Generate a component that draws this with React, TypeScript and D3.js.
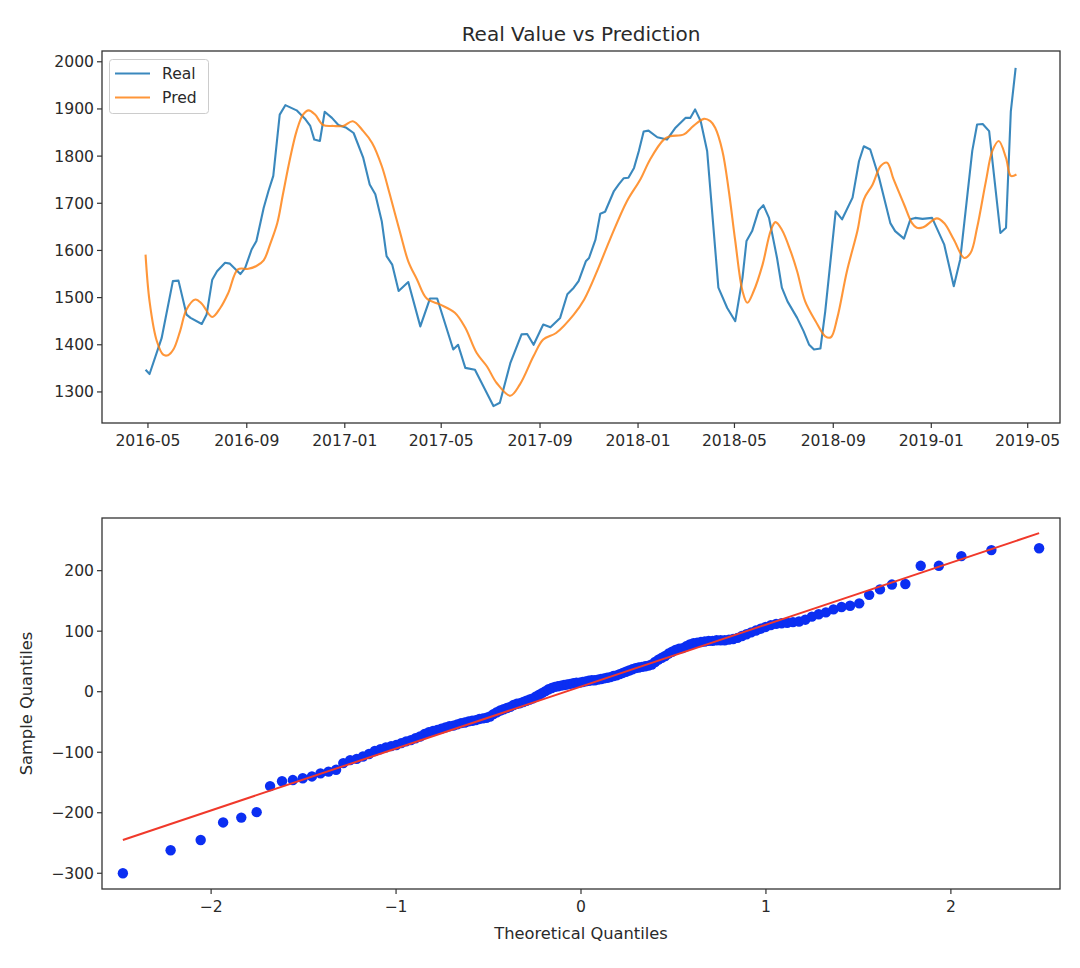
import React from "react";
import * as d3 from "d3";

// ---------------- Data ----------------
const realPoints: [string, number][] = [
  ["2016-04-28",1347],["2016-05-03",1338],["2016-05-18",1414],["2016-06-01",1535],["2016-06-08",1536],
  ["2016-06-18",1464],["2016-06-23",1457],["2016-07-07",1444],["2016-07-13",1464],["2016-07-20",1538],
  ["2016-07-26",1556],["2016-08-05",1574],["2016-08-11",1572],["2016-08-24",1550],["2016-08-30",1563],
  ["2016-09-07",1602],["2016-09-13",1620],["2016-09-22",1690],["2016-09-28",1726],["2016-10-04",1758],
  ["2016-10-12",1888],["2016-10-19",1908],["2016-11-02",1897],["2016-11-13",1878],["2016-11-19",1864],
  ["2016-11-24",1835],["2016-12-01",1832],["2016-12-07",1894],["2016-12-16",1881],["2016-12-24",1866],
  ["2017-01-03",1860],["2017-01-12",1849],["2017-01-24",1796],["2017-02-01",1740],["2017-02-08",1719],
  ["2017-02-16",1662],["2017-02-22",1588],["2017-03-01",1570],["2017-03-09",1514],["2017-03-21",1533],
  ["2017-04-05",1439],["2017-04-17",1498],["2017-04-26",1498],["2017-05-16",1390],["2017-05-22",1400],
  ["2017-05-31",1351],["2017-06-12",1347],["2017-07-05",1270],["2017-07-13",1277],["2017-07-26",1361],
  ["2017-08-09",1422],["2017-08-16",1423],["2017-08-24",1400],["2017-09-05",1443],["2017-09-14",1437],
  ["2017-09-26",1457],["2017-10-05",1507],["2017-10-13",1521],["2017-10-19",1535],["2017-10-28",1577],
  ["2017-11-01",1584],["2017-11-09",1623],["2017-11-15",1678],["2017-11-21",1682],["2017-12-02",1726],
  ["2017-12-08",1740],["2017-12-14",1753],["2017-12-20",1754],["2017-12-27",1775],["2018-01-02",1811],
  ["2018-01-08",1852],["2018-01-14",1854],["2018-01-25",1840],["2018-02-06",1835],["2018-02-16",1859],
  ["2018-03-01",1881],["2018-03-07",1881],["2018-03-13",1899],["2018-03-20",1874],["2018-03-28",1811],
  ["2018-04-11",1521],["2018-04-22",1478],["2018-05-02",1450],["2018-05-11",1542],["2018-05-16",1620],
  ["2018-05-23",1641],["2018-05-31",1685],["2018-06-06",1696],["2018-06-13",1669],["2018-06-23",1584],
  ["2018-06-29",1521],["2018-07-06",1492],["2018-07-18",1457],["2018-07-26",1429],["2018-08-02",1400],
  ["2018-08-08",1390],["2018-08-16",1392],["2018-08-22",1471],["2018-09-04",1683],["2018-09-12",1666],
  ["2018-09-25",1712],["2018-10-03",1789],["2018-10-09",1821],["2018-10-17",1814],["2018-10-28",1754],
  ["2018-11-11",1658],["2018-11-17",1641],["2018-11-28",1625],["2018-12-06",1666],["2018-12-12",1669],
  ["2018-12-21",1667],["2019-01-02",1669],["2019-01-17",1613],["2019-01-29",1524],["2019-02-06",1581],
  ["2019-02-15",1719],["2019-02-21",1811],["2019-02-27",1867],["2019-03-06",1868],["2019-03-14",1853],
  ["2019-03-28",1637],["2019-04-04",1648],["2019-04-10",1895],["2019-04-16",1987]
];

const predPoints: [string, number][] = [
  ["2016-04-28",1591],["2016-05-03",1492],["2016-05-12",1408],["2016-05-20",1379],["2016-05-26",1378],
  ["2016-06-02",1391],["2016-06-10",1429],["2016-06-18",1475],["2016-06-29",1496],["2016-07-07",1487],
  ["2016-07-20",1459],["2016-07-30",1478],["2016-08-09",1510],["2016-08-21",1560],["2016-09-03",1561],
  ["2016-09-13",1567],["2016-09-22",1579],["2016-09-30",1613],["2016-10-09",1658],["2016-10-16",1719],
  ["2016-10-25",1796],["2016-11-02",1853],["2016-11-10",1888],["2016-11-17",1897],["2016-11-25",1888],
  ["2016-12-05",1866],["2016-12-18",1864],["2016-12-30",1864],["2017-01-11",1874],["2017-01-24",1853],
  ["2017-02-04",1828],["2017-02-16",1779],["2017-02-26",1719],["2017-03-11",1637],["2017-03-21",1577],
  ["2017-04-01",1538],["2017-04-13",1498],["2017-04-30",1485],["2017-05-18",1468],["2017-05-31",1436],
  ["2017-06-14",1383],["2017-06-27",1354],["2017-07-09",1319],["2017-07-26",1292],["2017-08-07",1316],
  ["2017-08-24",1376],["2017-09-05",1411],["2017-09-21",1425],["2017-10-13",1464],["2017-10-26",1496],
  ["2017-11-11",1556],["2017-11-27",1623],["2017-12-18",1704],["2018-01-04",1751],["2018-01-16",1793],
  ["2018-02-02",1835],["2018-02-10",1842],["2018-02-27",1846],["2018-03-11",1864],["2018-03-24",1879],
  ["2018-04-01",1874],["2018-04-07",1860],["2018-04-16",1811],["2018-04-24",1726],["2018-05-02",1620],
  ["2018-05-11",1514],["2018-05-17",1489],["2018-05-25",1514],["2018-06-05",1570],["2018-06-15",1641],
  ["2018-06-21",1660],["2018-06-29",1644],["2018-07-10",1598],["2018-07-18",1556],["2018-07-28",1492],
  ["2018-08-10",1450],["2018-08-22",1418],["2018-08-29",1416],["2018-09-06",1457],["2018-09-18",1556],
  ["2018-10-01",1641],["2018-10-09",1708],["2018-10-20",1740],["2018-10-30",1779],["2018-11-07",1786],
  ["2018-11-15",1751],["2018-11-28",1698],["2018-12-08",1658],["2018-12-14",1648],["2018-12-22",1649],
  ["2019-01-08",1668],["2019-01-17",1658],["2019-01-29",1623],["2019-02-11",1584],["2019-02-19",1595],
  ["2019-02-27",1648],["2019-03-10",1747],["2019-03-18",1811],["2019-03-26",1832],["2019-04-04",1796],
  ["2019-04-10",1758],["2019-04-17",1761]
];

const topYTicks = [1300, 1400, 1500, 1600, 1700, 1800, 1900, 2000];
const topXTickDates = ["2016-05-01","2016-09-01","2017-01-01","2017-05-01","2017-09-01","2018-01-01","2018-05-01","2018-09-01","2019-01-01","2019-05-01"];

// sorted sample quantiles (residuals)
const sampleQuantiles = [
  -300,-262,-245,-216,-208,-199,-156,-148,-146,-143,
  -140,-135,-132,-129,-118,-113,-111,-107,-103,-98,
  -95,-92,-90,-88,-85,-82,-80,-77,-74,-70,
  -67,-65,-63,-61,-59,-57,-56,-54,-52,-51,
  -49,-48,-47,-45,-44,-43,-41,-37,-34,-31,
  -29,-27,-25,-22,-20,-19,-17,-15,-13,-11,
  -8,-5,-2,1,4,6,8,9,10,11,
  12,13,14,15,15,16,17,18,19,19,
  20,21,22,23,24,26,27,29,31,33,
  35,37,39,40,41,42,43,45,49,53,
  56,59,63,66,69,71,72,75,78,80,
  81,82,83,84,84,85,85,85,86,87,
  89,92,95,98,101,104,107,110,112,113,
  114,115,116,119,124,128,131,136,140,142,
  146,160,169,177,178,208,208,224,234,237
];
// reference line values at the first and last theoretical quantile
const qqLineEnds = [-245, 262];
const qqXTicks = [-2, -1, 0, 1, 2];
const qqYTicks = [-300, -200, -100, 0, 100, 200];

// ---------------- Helpers ----------------
function invNorm(p: number): number {
  const a = [-3.969683028665376e1, 2.209460984245205e2, -2.759285104469687e2, 1.38357751867269e2, -3.066479806614716e1, 2.506628277459239];
  const b = [-5.447609879822406e1, 1.615858368580409e2, -1.556989798598866e2, 6.680131188771972e1, -1.328068155288572e1];
  const c = [-7.784894002430293e-3, -3.223964580411365e-1, -2.400758277161838, -2.54967103927601, 4.374664141464968, 2.938163982698783];
  const d = [7.784695709041462e-3, 3.224671290700398e-1, 2.445134137142996, 3.754408661907416];
  const plow = 0.02425;
  if (p < plow) {
    const q = Math.sqrt(-2 * Math.log(p));
    return (((((c[0]*q+c[1])*q+c[2])*q+c[3])*q+c[4])*q+c[5]) / ((((d[0]*q+d[1])*q+d[2])*q+d[3])*q+1);
  }
  if (p <= 1 - plow) {
    const q = p - 0.5, r = q * q;
    return (((((a[0]*r+a[1])*r+a[2])*r+a[3])*r+a[4])*r+a[5])*q / (((((b[0]*r+b[1])*r+b[2])*r+b[3])*r+b[4])*r+1);
  }
  const q = Math.sqrt(-2 * Math.log(1 - p));
  return -(((((c[0]*q+c[1])*q+c[2])*q+c[3])*q+c[4])*q+c[5]) / ((((d[0]*q+d[1])*q+d[2])*q+d[3])*q+1);
}

const FONT = "DejaVu Sans, Verdana, sans-serif";
const TEXT = "#2a2a2a";
const SPINE = "#333";
const TICK_FS = 15.6;
const LABEL_FS = 16.3;

export default function App() {
  const parse = d3.timeParse("%Y-%m-%d")!;
  const real = realPoints.map(([d, v]) => ({ date: parse(d) as Date, value: v }));
  const pred = predPoints.map(([d, v]) => ({ date: parse(d) as Date, value: v }));
  const all = real.concat(pred);

  // ---- top chart ----
  const T = { l: 102, r: 1060, t: 51, b: 423 };
  const [dMin, dMax] = d3.extent(all, (d) => d.date) as [Date, Date];
  const dPad = (dMax.getTime() - dMin.getTime()) * 0.05;
  const x1 = d3.scaleTime().domain([new Date(dMin.getTime() - dPad), new Date(dMax.getTime() + dPad)]).range([T.l, T.r]);
  const [vMin, vMax] = d3.extent(all, (d) => d.value) as [number, number];
  const vPad = (vMax - vMin) * 0.05;
  const y1 = d3.scaleLinear().domain([vMin - vPad, vMax + vPad]).range([T.b, T.t]);
  const lineReal = d3.line<{ date: Date; value: number }>().x((d) => x1(d.date)).y((d) => y1(d.value));
  const linePred = d3.line<{ date: Date; value: number }>().x((d) => x1(d.date)).y((d) => y1(d.value)).curve(d3.curveCatmullRom.alpha(0.5));
  const fmtDate = d3.timeFormat("%Y-%m");

  // ---- QQ chart ----
  const B = { l: 102, r: 1060, t: 518, b: 889 };
  const n = sampleQuantiles.length;
  const qq = sampleQuantiles.map((v, i) => ({ tq: invNorm((i + 1) / (n + 1)), sq: v }));
  const x2 = d3.scaleLinear().domain([-2.59, 2.59]).range([B.l, B.r]);
  const y2 = d3.scaleLinear().domain([-326, 287]).range([B.b, B.t]);
  const tqMin = qq[0].tq, tqMax = qq[n - 1].tq;
  const fmtNum = d3.format("d");

  return (
    <svg width={1080} height={968} style={{ position: "absolute", left: 0, top: 0, background: "#fff" }} fontFamily={FONT}>
      <rect x={0} y={0} width={1080} height={968} fill="#fff" />
      {/* ===== Top chart ===== */}
      <text x={(T.l + T.r) / 2} y={41} textAnchor="middle" fontSize={20} fill={TEXT}>Real Value vs Prediction</text>
      <defs>
        <clipPath id="clipTop"><rect x={T.l} y={T.t} width={T.r - T.l} height={T.b - T.t} /></clipPath>
      </defs>
      <g clipPath="url(#clipTop)">
        <path d={lineReal(real)!} fill="none" stroke="#1f77b4" strokeWidth={2.1} strokeOpacity={0.88} strokeLinejoin="round" />
        <path d={linePred(pred)!} fill="none" stroke="#ff7f0e" strokeWidth={2.1} strokeOpacity={0.82} strokeLinejoin="round" />
      </g>
      <rect x={T.l} y={T.t} width={T.r - T.l} height={T.b - T.t} fill="none" stroke={SPINE} strokeWidth={1.3} />
      {topYTicks.map((t) => (
        <g key={"ty" + t}>
          <line x1={T.l - 5} x2={T.l} y1={y1(t)} y2={y1(t)} stroke={SPINE} strokeWidth={1.2} />
          <text x={T.l - 8} y={y1(t)} dy="0.35em" textAnchor="end" fontSize={TICK_FS} fill={TEXT}>{t}</text>
        </g>
      ))}
      {topXTickDates.map((s) => {
        const xx = x1(parse(s) as Date);
        return (
          <g key={"tx" + s}>
            <line x1={xx} x2={xx} y1={T.b} y2={T.b + 5} stroke={SPINE} strokeWidth={1.2} />
            <text x={xx} y={T.b + 23} textAnchor="middle" fontSize={TICK_FS} fill={TEXT}>{fmtDate(parse(s) as Date)}</text>
          </g>
        );
      })}
      {/* legend */}
      <g>
        <rect x={109.5} y={59.5} width={99} height={54} rx={3} fill="#fff" fillOpacity={0.8} stroke="#ccc" strokeWidth={1} />
        <line x1={115} x2={150} y1={73.5} y2={73.5} stroke="#1f77b4" strokeWidth={2.1} strokeOpacity={0.88} />
        <text x={162} y={73.5} dy="0.35em" fontSize={TICK_FS} fill={TEXT}>Real</text>
        <line x1={115} x2={150} y1={97.5} y2={97.5} stroke="#ff7f0e" strokeWidth={2.1} strokeOpacity={0.82} />
        <text x={162} y={97.5} dy="0.35em" fontSize={TICK_FS} fill={TEXT}>Pred</text>
      </g>

      {/* ===== QQ chart ===== */}
      <defs>
        <clipPath id="clipBot"><rect x={B.l} y={B.t} width={B.r - B.l} height={B.b - B.t} /></clipPath>
      </defs>
      <g clipPath="url(#clipBot)">
        {qq.map((d, i) => (
          <circle key={i} cx={x2(d.tq)} cy={y2(d.sq)} r={5.2} fill="#0b2ef2" />
        ))}
        <line x1={x2(tqMin)} x2={x2(tqMax)} y1={y2(qqLineEnds[0])} y2={y2(qqLineEnds[1])} stroke="#f0392b" strokeWidth={2} />
      </g>
      <rect x={B.l} y={B.t} width={B.r - B.l} height={B.b - B.t} fill="none" stroke={SPINE} strokeWidth={1.3} />
      {qqYTicks.map((t) => (
        <g key={"by" + t}>
          <line x1={B.l - 5} x2={B.l} y1={y2(t)} y2={y2(t)} stroke={SPINE} strokeWidth={1.2} />
          <text x={B.l - 8} y={y2(t)} dy="0.35em" textAnchor="end" fontSize={TICK_FS} fill={TEXT}>{fmtNum(t)}</text>
        </g>
      ))}
      {qqXTicks.map((t) => (
        <g key={"bx" + t}>
          <line x1={x2(t)} x2={x2(t)} y1={B.b} y2={B.b + 5} stroke={SPINE} strokeWidth={1.2} />
          <text x={x2(t)} y={B.b + 23} textAnchor="middle" fontSize={TICK_FS} fill={TEXT}>{fmtNum(t)}</text>
        </g>
      ))}
      <text x={(B.l + B.r) / 2} y={939} textAnchor="middle" fontSize={LABEL_FS} fill={TEXT}>Theoretical Quantiles</text>
      <text transform={`translate(32, ${(B.t + B.b) / 2}) rotate(-90)`} textAnchor="middle" fontSize={LABEL_FS} fill={TEXT}>Sample Quantiles</text>
    </svg>
  );
}
